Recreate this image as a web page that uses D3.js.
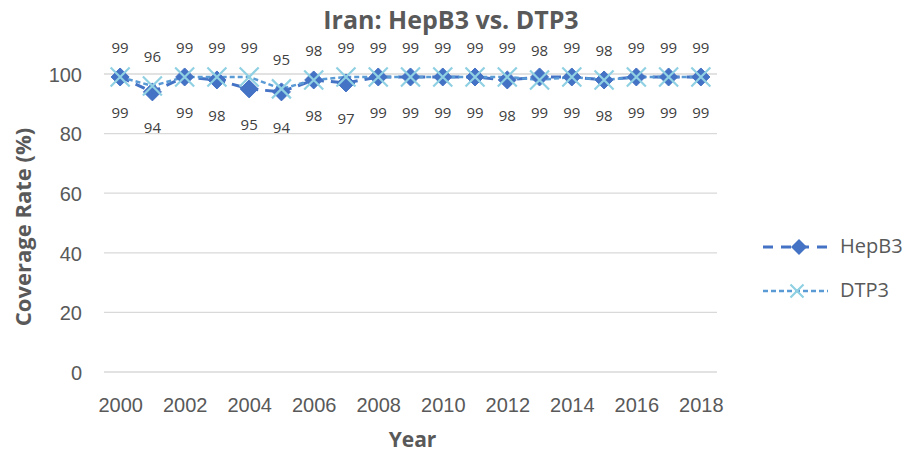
<!DOCTYPE html>
<html>
<head>
<meta charset="utf-8">
<script src="https://cdn.jsdelivr.net/npm/d3@7"></script>
<style>
  html, body { margin: 0; padding: 0; background: #fff; }
  svg { display: block; font-family: "Open Sans", "Noto Sans", sans-serif; }
</style>
</head>
<body>
<svg id="chart" width="904" height="453"></svg>
<script>
// Immunisation coverage, Iran, 2000–2018
const years = [2000, 2001, 2002, 2003, 2004, 2005, 2006, 2007, 2008, 2009,
               2010, 2011, 2012, 2013, 2014, 2015, 2016, 2017, 2018];
const hepB3 = [99, 94, 99, 98, 95, 94, 98, 97, 99, 99, 99, 99, 98, 99, 99, 98, 99, 99, 99];
const dtp3  = [99, 96, 99, 99, 99, 95, 98, 99, 99, 99, 99, 99, 99, 98, 99, 98, 99, 99, 99];
const yTicks = [0, 20, 40, 60, 80, 100];
const xTickYears = [2000, 2002, 2004, 2006, 2008, 2010, 2012, 2014, 2016, 2018];

const svg = d3.select("#chart");
const plotL = 104, plotR = 717, plotT = 74, plotB = 372;

const x = d3.scalePoint().domain(years).range([plotL, plotR]).padding(0.5);
const y = d3.scaleLinear().domain([0, 100]).range([plotB, plotT]);

const textCol = "#595959";

// horizontal gridlines
svg.append("g")
  .selectAll("line").data(yTicks).join("line")
  .attr("x1", plotL).attr("x2", plotR)
  .attr("y1", d => y(d)).attr("y2", d => y(d))
  .attr("stroke", "#d9d9d9").attr("stroke-width", 1.3);

// y axis labels
const yAxis = svg.append("g").attr("transform", `translate(${plotL - 22},0)`)
  .call(d3.axisLeft(y).tickValues(yTicks).tickSize(0).tickPadding(0));
yAxis.select(".domain").remove();
yAxis.selectAll("text").attr("fill", textCol).style("font-size", "20px")
  .attr("dy", "0.36em");

// x axis labels
const xAxis = svg.append("g").attr("transform", `translate(0,${plotB + 40})`)
  .call(d3.axisBottom(x).tickValues(xTickYears).tickFormat(d3.format("d")).tickSize(0).tickPadding(0));
xAxis.select(".domain").remove();
xAxis.selectAll("text").attr("fill", textCol).style("font-size", "20px")
  .attr("dy", "0");

// titles
svg.append("text").attr("x", 451).attr("y", 29).attr("text-anchor", "middle")
  .attr("fill", textCol).style("font-size", "25px").style("font-weight", "bold")
  .text("Iran: HepB3 vs. DTP3");
svg.append("text").attr("x", (plotL + plotR) / 2 + 2).attr("y", 447).attr("text-anchor", "middle")
  .attr("fill", textCol).style("font-size", "21px").style("font-weight", "bold")
  .text("Year");
svg.append("text").attr("transform", `translate(31,227) rotate(-90)`)
  .attr("text-anchor", "middle")
  .attr("fill", textCol).style("font-size", "22px").style("font-weight", "bold")
  .text("Coverage Rate (%)");

const hepCol = "#4472C4", dtpLine = "#5B9BD5", dtpMark = "#8FD0E3";
const line = d3.line().x((d, i) => x(years[i])).y(d => y(d));

// lines
svg.append("path").datum(hepB3).attr("d", line)
  .attr("fill", "none").attr("stroke", hepCol).attr("stroke-width", 3)
  .attr("stroke-dasharray", "10,7");
svg.append("path").datum(dtp3).attr("d", line)
  .attr("fill", "none").attr("stroke", dtpLine).attr("stroke-width", 2.5)
  .attr("stroke-dasharray", "5,3");

const diamond = (cx, cy, r) => `M${cx},${cy - r}L${cx + r},${cy}L${cx},${cy + r}L${cx - r},${cy}Z`;
const cross = (cx, cy, r) => `M${cx - r},${cy - r}L${cx + r},${cy + r}M${cx - r},${cy + r}L${cx + r},${cy - r}`;

// HepB3 markers
svg.append("g").selectAll("path").data(hepB3).join("path")
  .attr("d", (d, i) => diamond(x(years[i]), y(d), 9))
  .attr("fill", hepCol).attr("stroke", hepCol).attr("stroke-width", 1);

// DTP3 markers
svg.append("g").selectAll("path").data(dtp3).join("path")
  .attr("d", (d, i) => cross(x(years[i]), y(d), 9.5))
  .attr("fill", "none").attr("stroke", dtpMark).attr("stroke-width", 2.2);

// value labels: DTP3 above, HepB3 below
svg.append("g").selectAll("text").data(dtp3).join("text")
  .attr("x", (d, i) => x(years[i])).attr("y", d => y(d) - 24)
  .attr("text-anchor", "middle")
  .attr("fill", "#404040").style("font-size", "15px").text(d => d);
svg.append("g").selectAll("text").data(hepB3).join("text")
  .attr("x", (d, i) => x(years[i])).attr("y", d => y(d) + 41)
  .attr("text-anchor", "middle")
  .attr("fill", "#404040").style("font-size", "15px").text(d => d);

// legend
const lg = svg.append("g");
const lx1 = 763, lx2 = 828, lmx = 799;
lg.append("line").attr("x1", lx1).attr("x2", lx2).attr("y1", 247).attr("y2", 247)
  .attr("stroke", hepCol).attr("stroke-width", 3).attr("stroke-dasharray", "10,8");
lg.append("path").attr("d", diamond(lmx, 247, 8)).attr("fill", hepCol);
lg.append("text").attr("x", 840).attr("y", 253)
  .attr("fill", textCol).style("font-size", "20px").text("HepB3");
lg.append("line").attr("x1", lx1).attr("x2", lx2).attr("y1", 291).attr("y2", 291)
  .attr("stroke", dtpLine).attr("stroke-width", 2.5).attr("stroke-dasharray", "5,3");
lg.append("path").attr("d", cross(lmx - 2, 291, 6.5)).attr("fill", "none")
  .attr("stroke", dtpMark).attr("stroke-width", 2.2);
lg.append("text").attr("x", 840).attr("y", 297)
  .attr("fill", textCol).style("font-size", "20px").text("DTP3");
</script>
</body>
</html>
